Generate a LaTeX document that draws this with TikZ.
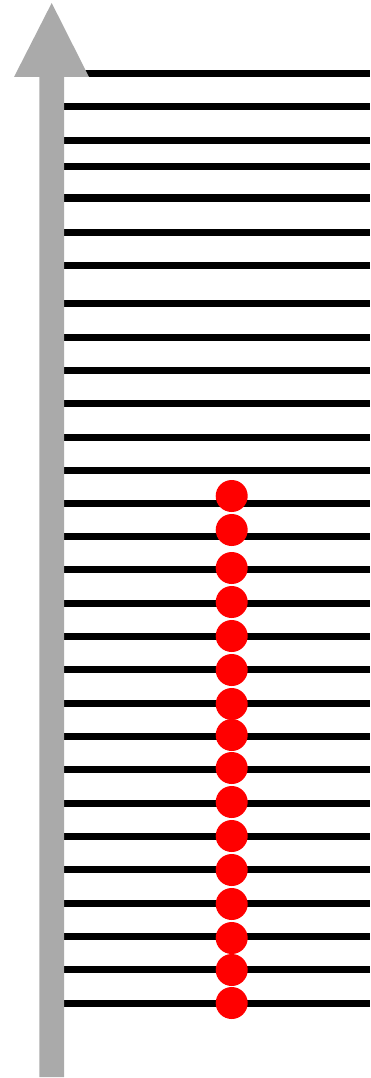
\documentclass[tikz,border=0pt]{standalone}
\usetikzlibrary{calc}
\definecolor{axisgray}{HTML}{AAAAAA}
\tikzset{
  rung/.style={draw=black, line width=7pt},
  bead/.style={circle, fill=red, draw=none, inner sep=0pt, minimum size=32pt},
  axis/.style={fill=axisgray, draw=none}
}
\begin{document}
\begin{tikzpicture}[x=1pt,y=-1pt]
\useasboundingbox (0,0) rectangle (370,1078);
% horizontal lines
\foreach \yy [count=\i] in {74,107,141,167,198,232,265,303,337,370,403,437,470,503,536,569,603,636,669,703,736,769,803,836,869,903,936,969,1003}{
  \coordinate (l\i a) at (64,\yy);
  \coordinate (l\i b) at (370,\yy);
  \draw[rung] (l\i a) -- (l\i b);
}
% gray arrow
\fill[axis] (39.3,1077) -- (39.3,77) -- (14,77) -- (51.7,3) -- (89,77) -- (64,77) -- (64,1077) -- cycle;
% red beads
\foreach \yy [count=\i] in {496,530,568,602,636,670,704,735,768,802,836,870,904,938,970,1003}{
  \node[bead] (d\i) at (231.7,\yy) {};
}
\end{tikzpicture}
\end{document}
